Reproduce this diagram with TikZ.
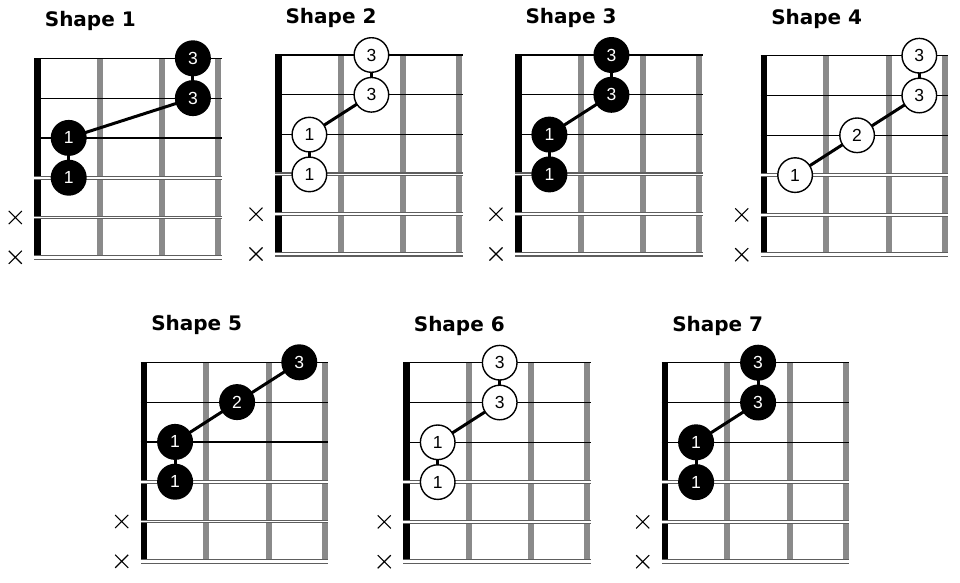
\documentclass[tikz,border=0pt]{standalone}
\usepackage{fontspec}
\setmainfont{Liberation Sans}
\newfontfamily\titlefont{DejaVu Sans}
\usetikzlibrary{shapes.misc}
\pgfdeclarelayer{bglayer}
\pgfdeclarelayer{gridlayer}
\pgfdeclarelayer{linklayer}
\pgfsetlayers{bglayer,gridlayer,linklayer,main}
\definecolor{fretgray}{HTML}{8A8A8A}
\definecolor{wound}{HTML}{5E5E5E}
\tikzset{
  plainstring/.style={black, line width=1.2pt},
  woundstring/.style={draw=wound, line width=1.1pt, double=white, double distance=1.7pt},
  lowstring/.style={draw=wound, line width=1.1pt, double=white, double distance=2.8pt},
  shapetitle/.style={anchor=base, inner sep=0pt, font=\titlefont\bfseries\fontsize{20}{24}\selectfont},
  mute/.style={cross out, draw=black, line width=1.1pt, minimum size=12pt, inner sep=0pt},
  bdot/.style={circle, fill=black, minimum size=36pt, inner sep=0pt, text=white, font=\fontsize{17.5}{18}\selectfont},
  odot/.style={circle, draw=black, line width=1.4pt, fill=white, minimum size=34.6pt, inner sep=0pt, text=black, font=\fontsize{17.5}{18}\selectfont},
  link/.style={black, line width=3pt},
}
\newcommand\fretgrid[4]{%
  \begin{scope}[shift={(#2,#3)}]
    \begin{pgfonlayer}{gridlayer}
      \foreach \f in {65.7,128,184} \fill[fretgray] (\f-3,0) rectangle (\f+3,199);
      \fill[black] (0,0) rectangle (6.5,199);
      \foreach \s in {0,1,2} \draw[plainstring] (0,\s*39.8) -- (187.5,\s*39.8);
      \draw[woundstring] (0,119.4) -- (187.5,119.4);
      \draw[woundstring] (0,159.2) -- (187.5,159.2);
      \draw[lowstring] (0,199) -- (187.5,199);
    \end{pgfonlayer}
    \node[shapetitle] (#1-title) at (56,-31.5) {#4};
    \node[mute] (#1-x5) at (-19,159.2) {};
    \node[mute] (#1-x6) at (-19,199) {};
  \end{scope}}
\newcommand\lnk[2]{\begin{pgfonlayer}{linklayer}\draw[link] (#1.center) -- (#2.center);\end{pgfonlayer}}
\begin{document}
\begin{tikzpicture}[x=1pt,y=-1pt]
\begin{pgfonlayer}{bglayer}
\fill[white] (0,0) rectangle (960,582);
\end{pgfonlayer}
\useasboundingbox (0,0) rectangle (960,582);

% Shape 1
\fretgrid{a}{34.3}{58.3}{Shape 1}
\begin{scope}[shift={(34.3,58.3)}]
  \node[bdot] (a3t) at (158.6,0) {3};
  \node[bdot] (a3b) at (158.6,39.8) {3};
  \node[bdot] (a1t) at (34.4,79.6) {1};
  \node[bdot] (a1b) at (34.4,119.4) {1};
\end{scope}
\lnk{a3t}{a3b}\lnk{a1t}{a1b}\lnk{a1t}{a3b}

% Shape 2
\fretgrid{b}{275}{55}{Shape 2}
\begin{scope}[shift={(275,55)}]
  \node[odot] (b3t) at (96.4,0) {3};
  \node[odot] (b3b) at (96.4,39.8) {3};
  \node[odot] (b1t) at (34.4,79.6) {1};
  \node[odot] (b1b) at (34.4,119.4) {1};
\end{scope}
\lnk{b3t}{b3b}\lnk{b1t}{b1b}\lnk{b1t}{b3b}

% Shape 3
\fretgrid{c}{515}{55}{Shape 3}
\begin{scope}[shift={(515,55)}]
  \node[bdot] (c3t) at (96.4,0) {3};
  \node[bdot] (c3b) at (96.4,39.8) {3};
  \node[bdot] (c1t) at (34.4,79.6) {1};
  \node[bdot] (c1b) at (34.4,119.4) {1};
\end{scope}
\lnk{c3t}{c3b}\lnk{c1t}{c1b}\lnk{c1t}{c3b}

% Shape 4
\fretgrid{d}{760.7}{55.7}{Shape 4}
\begin{scope}[shift={(760.7,55.7)}]
  \node[odot] (d3t) at (158.6,0) {3};
  \node[odot] (d3b) at (158.6,39.8) {3};
  \node[odot] (d2) at (96.4,79.6) {2};
  \node[odot] (d1) at (34.4,119.4) {1};
\end{scope}
\lnk{d3t}{d3b}\lnk{d3b}{d2}\lnk{d2}{d1}

% Shape 5
\fretgrid{e}{140.7}{362.3}{Shape 5}
\begin{scope}[shift={(140.7,362.3)}]
  \node[bdot] (e3) at (158.6,0) {3};
  \node[bdot] (e2) at (96.4,39.8) {2};
  \node[bdot] (e1t) at (34.4,79.6) {1};
  \node[bdot] (e1b) at (34.4,119.4) {1};
\end{scope}
\lnk{e3}{e2}\lnk{e2}{e1t}\lnk{e1t}{e1b}

% Shape 6
\fretgrid{f}{403.3}{362.7}{Shape 6}
\begin{scope}[shift={(403.3,362.7)}]
  \node[odot] (f3t) at (96.4,0) {3};
  \node[odot] (f3b) at (96.4,39.8) {3};
  \node[odot] (f1t) at (34.4,79.6) {1};
  \node[odot] (f1b) at (34.4,119.4) {1};
\end{scope}
\lnk{f3t}{f3b}\lnk{f1t}{f1b}\lnk{f1t}{f3b}

% Shape 7
\fretgrid{g}{661.7}{362.7}{Shape 7}
\begin{scope}[shift={(661.7,362.7)}]
  \node[bdot] (g3t) at (96.4,0) {3};
  \node[bdot] (g3b) at (96.4,39.8) {3};
  \node[bdot] (g1t) at (34.4,79.6) {1};
  \node[bdot] (g1b) at (34.4,119.4) {1};
\end{scope}
\lnk{g3t}{g3b}\lnk{g1t}{g1b}\lnk{g1t}{g3b}
\end{tikzpicture}
\end{document}
